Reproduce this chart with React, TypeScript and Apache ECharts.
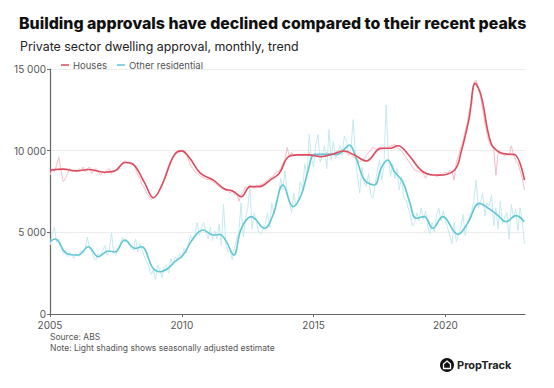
import React, { useEffect, useRef } from "react";
import * as echarts from "echarts";

const startYear = 2005;
const xTicks = [2005, 2010, 2015, 2020];
const yTicks = [0, 5000, 10000, 15000];

// Trend lines, read at [decimal year, dwellings]
const housesTrend: [number, number][] = [
  [2005.0, 8800], [2005.5, 8870], [2006.0, 8760], [2006.45, 8850], [2007.05, 8680], [2007.45, 8750],
  [2007.85, 9280], [2008.15, 9170], [2008.6, 8000], [2008.92, 7120], [2009.25, 7900], [2009.7, 9700],
  [2010.0, 9990], [2010.3, 9550], [2010.7, 8620], [2011.2, 8200], [2011.6, 7670], [2011.95, 7520],
  [2012.25, 7180], [2012.6, 7800], [2012.95, 7800], [2013.35, 8200], [2013.7, 8620], [2014.05, 9640],
  [2014.4, 9740], [2014.8, 9740], [2015.3, 9630], [2015.7, 9780], [2016.15, 9980], [2016.55, 9730],
  [2017.0, 9370], [2017.55, 10140], [2017.9, 10150], [2018.2, 10300], [2018.6, 9750], [2019.15, 8710],
  [2019.75, 8500], [2020.35, 8820], [2020.6, 9940], [2020.9, 11980], [2021.13, 14120], [2021.35, 13400],
  [2021.73, 10450], [2022.05, 9900], [2022.42, 9780], [2022.62, 9770], [2023.0, 8200],
];

const otherTrend: [number, number][] = [
  [2005.0, 4430], [2005.2, 4590], [2005.63, 3710], [2006.07, 3610], [2006.45, 4120], [2006.83, 3510],
  [2007.21, 3860], [2007.46, 3800], [2007.84, 4530], [2008.22, 4020], [2008.47, 4120], [2008.91, 2800],
  [2009.17, 2590], [2009.48, 2800], [2009.73, 3200], [2010.05, 3610], [2010.43, 4630], [2010.81, 5140],
  [2011.19, 4840], [2011.44, 4870], [2011.69, 4430], [2011.97, 3610], [2012.26, 5245], [2012.64, 5960],
  [2013.14, 5245], [2013.46, 6060], [2013.84, 7900], [2014.22, 6570], [2014.53, 7285], [2014.78, 8710],
  [2015.04, 9775], [2015.42, 9775], [2015.92, 9775], [2016.17, 10100], [2016.36, 10350], [2016.62, 9530],
  [2016.93, 8200], [2017.31, 7900], [2017.56, 8920], [2017.81, 9430], [2018.07, 8710], [2018.38, 8100],
  [2018.64, 6880], [2018.89, 5860], [2019.2, 5960], [2019.52, 5245], [2019.9, 5960], [2020.47, 4880],
  [2020.84, 5550], [2021.29, 6775], [2021.67, 6430], [2021.98, 6060], [2022.3, 5650], [2022.68, 6020],
  [2022.99, 5650],
];

// Seasonally adjusted, monthly from Jan 2005
const housesSA: number[] = [
  8500, 8900, 8700, 9100, 9600, 8800, 8100, 8300, 8600, 8900, 8700, 8800, // 2005
  8700, 8900, 8800, 9000, 8700, 8900, 9000, 8600, 8800, 8900, 8700, 8500, // 2006
  8700, 8600, 8800, 8900, 8600, 8700, 8800, 8800, 9000, 9200, 9400, 9300, // 2007
  9300, 9100, 9200, 8900, 8500, 8300, 7900, 7700, 7400, 7200, 7000, 7100, // 2008
  7200, 7300, 7700, 7900, 8300, 8700, 9100, 9400, 9600, 9900, 10000, 10000, // 2009
  10000, 9900, 9700, 9500, 9100, 8900, 8700, 8600, 8500, 8400, 8350, 8250, // 2010
  8250, 8200, 8100, 8000, 7900, 7800, 7700, 7700, 7600, 7550, 7400, 7600, // 2011
  7300, 7400, 6900, 7300, 7500, 7800, 7700, 7900, 7800, 7700, 7850, 7850, // 2012
  7900, 8000, 8100, 8200, 8300, 8400, 8500, 8700, 8700, 8900, 9200, 9500, // 2013
  10200, 9600, 9900, 9700, 9800, 9700, 9800, 9700, 9800, 9700, 9900, 9600, // 2014
  9700, 9600, 9700, 9600, 9800, 9700, 9900, 9800, 9900, 9800, 9900, 10000, // 2015
  10000, 10100, 9900, 9900, 9700, 9800, 9600, 9600, 9400, 9300, 9400, 9500, // 2016
  9700, 9900, 10000, 10200, 10100, 10100, 10200, 10100, 10200, 10100, 10200, 10300, // 2017
  10300, 10400, 10200, 10100, 10000, 9800, 9600, 9400, 9200, 9000, 8800, 8800, // 2018
  8700, 8700, 8600, 8300, 8600, 8500, 8500, 8500, 8400, 8500, 8500, 8600, // 2019
  8700, 8600, 8800, 8700, 8200, 9300, 9700, 10200, 10600, 11200, 11700, 12600, // 2020
  12800, 14200, 14300, 13800, 13300, 12500, 11700, 11000, 10500, 10300, 10100, 8500, // 2021
  9900, 9800, 9800, 9700, 9800, 9700, 10300, 9800, 9400, 9200, 8800, 8300, // 2022
  7600, // 2023
];

const otherSA: number[] = [
  4200, 4900, 5300, 4400, 4600, 4200, 3700, 3900, 3500, 3800, 3600, 3400, // 2005
  3700, 3500, 3900, 3700, 4000, 4700, 4000, 3800, 3400, 3300, 3700, 3600, // 2006
  3900, 4200, 3600, 3900, 5000, 3700, 3600, 4000, 4300, 4700, 4400, 4500, // 2007
  4200, 4000, 3900, 4600, 3800, 4300, 3900, 3500, 3200, 2900, 2400, 2700, // 2008
  2100, 3000, 2700, 2200, 2900, 3000, 2500, 3400, 3000, 3500, 3300, 3700, // 2009
  3400, 4000, 3700, 4300, 4800, 4500, 4900, 5600, 4800, 5300, 5600, 5000, // 2010
  4600, 5300, 4500, 5100, 4600, 5500, 4200, 6700, 4300, 3800, 3900, 3300, // 2011
  4100, 4600, 5000, 6800, 4700, 5900, 6500, 7800, 5200, 6200, 5600, 5000, // 2012
  4900, 5200, 5500, 6200, 5300, 6800, 6100, 7000, 7200, 8300, 7600, 8800, // 2013
  7400, 6800, 6200, 7400, 6600, 7000, 8100, 7600, 9200, 8400, 11000, 9600, // 2014
  9000, 10400, 11000, 9300, 9700, 10300, 8900, 11300, 9400, 10600, 9500, 9900, // 2015
  10300, 9700, 10900, 10600, 9800, 10100, 11900, 9900, 8400, 7400, 9000, 8000, // 2016
  7800, 8600, 7300, 7100, 7900, 8800, 9400, 8200, 9000, 12800, 9700, 8400, // 2017
  9200, 8300, 8900, 7600, 8400, 7200, 7000, 6500, 6100, 5400, 5600, 6200, // 2018
  5700, 6500, 5800, 6300, 5300, 4900, 5600, 5000, 6100, 6500, 5700, 6300, // 2019
  5700, 5300, 4800, 4300, 5600, 4400, 4900, 5300, 6100, 4800, 5600, 6000, // 2020
  6300, 7000, 8200, 6500, 6900, 7400, 6000, 6800, 6600, 7300, 5400, 6500, // 2021
  5200, 6900, 5500, 5900, 6200, 4600, 6700, 5900, 6400, 5100, 6500, 5700, // 2022
  4300, // 2023
];

const toMonthly = (vals: number[]) => vals.map((v, i) => [startYear + i / 12, v]);

const fmtThousands = (v: number) => String(v).replace(/\B(?=(\d{3})+(?!\d))/g, " ");

const FONT = "Inter";
const houseColor = "#dc4b5e";
const houseLight = "#f5bcc4";
const otherColor = "#5fc6d4";
const otherLight = "#c4eaf0";

export default function App() {
  const ref = useRef<HTMLDivElement>(null);
  useEffect(() => {
    document.body.style.margin = "0";
    if (!ref.current) return;
    const chart = echarts.init(ref.current, null, { renderer: "svg" });
    chart.setOption({
      animation: false,
      backgroundColor: "#ffffff",
      textStyle: { fontFamily: FONT },
      title: [
        {
          text: "Building approvals have declined compared to their recent peaks",
          left: 14,
          top: 10,
          textStyle: { fontFamily: FONT, fontSize: 15.9, fontWeight: 800, color: "#111" },
        },
        {
          text: "Private sector dwelling approval, monthly, trend",
          left: 15,
          top: 35,
          textStyle: { fontFamily: FONT, fontSize: 12.4, fontWeight: 400, color: "#222" },
        },
      ],
      legend: {
        left: 56,
        top: 55,
        itemWidth: 8,
        itemHeight: 1.5,
        itemGap: 10,
        icon: "rect",
        data: ["Houses", "Other residential"],
        textStyle: { fontFamily: FONT, fontSize: 9.5, color: "#555", padding: [0, 0, 0, -1] },
      },
      grid: { left: 50, right: 29, top: 69, bottom: 74, containLabel: false },
      xAxis: {
        type: "value",
        min: 2005,
        max: 2023.02,
        interval: 5,
        axisLine: { show: true, lineStyle: { color: "#666", width: 1.2 } },
        axisTick: { show: true, length: 3, lineStyle: { color: "#666" } },
        splitLine: { show: false },
        axisLabel: {
          color: "#555",
          fontFamily: FONT,
          fontSize: 10,
          margin: 5.5,
          showMaxLabel: false,
          formatter: (v: number) => (xTicks.includes(v) ? String(v) : ""),
        },
      },
      yAxis: {
        type: "value",
        min: 0,
        max: 15000,
        interval: 5000,
        axisLine: { show: true, lineStyle: { color: "#666", width: 1.2 } },
        axisTick: { show: true, length: 3, lineStyle: { color: "#666" } },
        splitLine: { show: true, lineStyle: { color: "#ececec", width: 1 } },
        axisLabel: {
          color: "#555",
          fontFamily: FONT,
          fontSize: 10,
          margin: 4,
          formatter: (v: number) => (yTicks.includes(v) ? fmtThousands(v) : ""),
        },
      },
      series: [
        {
          name: "Houses SA",
          type: "line",
          data: toMonthly(housesSA),
          showSymbol: false,
          lineStyle: { color: houseLight, width: 1 },
          itemStyle: { color: houseLight },
          z: 1,
        },
        {
          name: "Other residential SA",
          type: "line",
          data: toMonthly(otherSA),
          showSymbol: false,
          lineStyle: { color: otherLight, width: 1 },
          itemStyle: { color: otherLight },
          z: 1,
        },
        {
          name: "Other residential",
          type: "line",
          data: otherTrend,
          showSymbol: false,
          smooth: 0.4,
          lineStyle: { color: otherColor, width: 1.6 },
          itemStyle: { color: otherColor },
          z: 3,
        },
        {
          name: "Houses",
          type: "line",
          data: housesTrend,
          showSymbol: false,
          smooth: 0.4,
          lineStyle: { color: houseColor, width: 1.6 },
          itemStyle: { color: houseColor },
          z: 4,
        },
      ],
      graphic: [
        {
          type: "text",
          left: 50,
          top: 332,
          style: { text: "Source: ABS", fontFamily: FONT, fontSize: 8.5, fill: "#555" },
        },
        {
          type: "text",
          left: 50,
          top: 343,
          style: {
            text: "Note: Light shading shows seasonally adjusted estimate",
            fontFamily: FONT,
            fontSize: 8.5,
            fill: "#555",
          },
        },
        {
          type: "group",
          left: 440,
          top: 358,
          children: [
            { type: "circle", shape: { cx: 7, cy: 7, r: 7 }, style: { fill: "#111" } },
            {
              type: "polygon",
              shape: { points: [[7, 3], [10.5, 6], [10.5, 10.5], [3.5, 10.5], [3.5, 6]] },
              style: { fill: "none", stroke: "#fff", lineWidth: 1.3 },
            },
            {
              type: "text",
              x: 17,
              y: 7,
              style: {
                text: "PropTrack",
                fontFamily: FONT,
                fontSize: 11,
                fontWeight: 700,
                fill: "#222",
                verticalAlign: "middle",
              },
            },
          ],
        },
      ],
    });
    return () => chart.dispose();
  }, []);
  return <div ref={ref} style={{ width: 554, height: 388 }} />;
}
